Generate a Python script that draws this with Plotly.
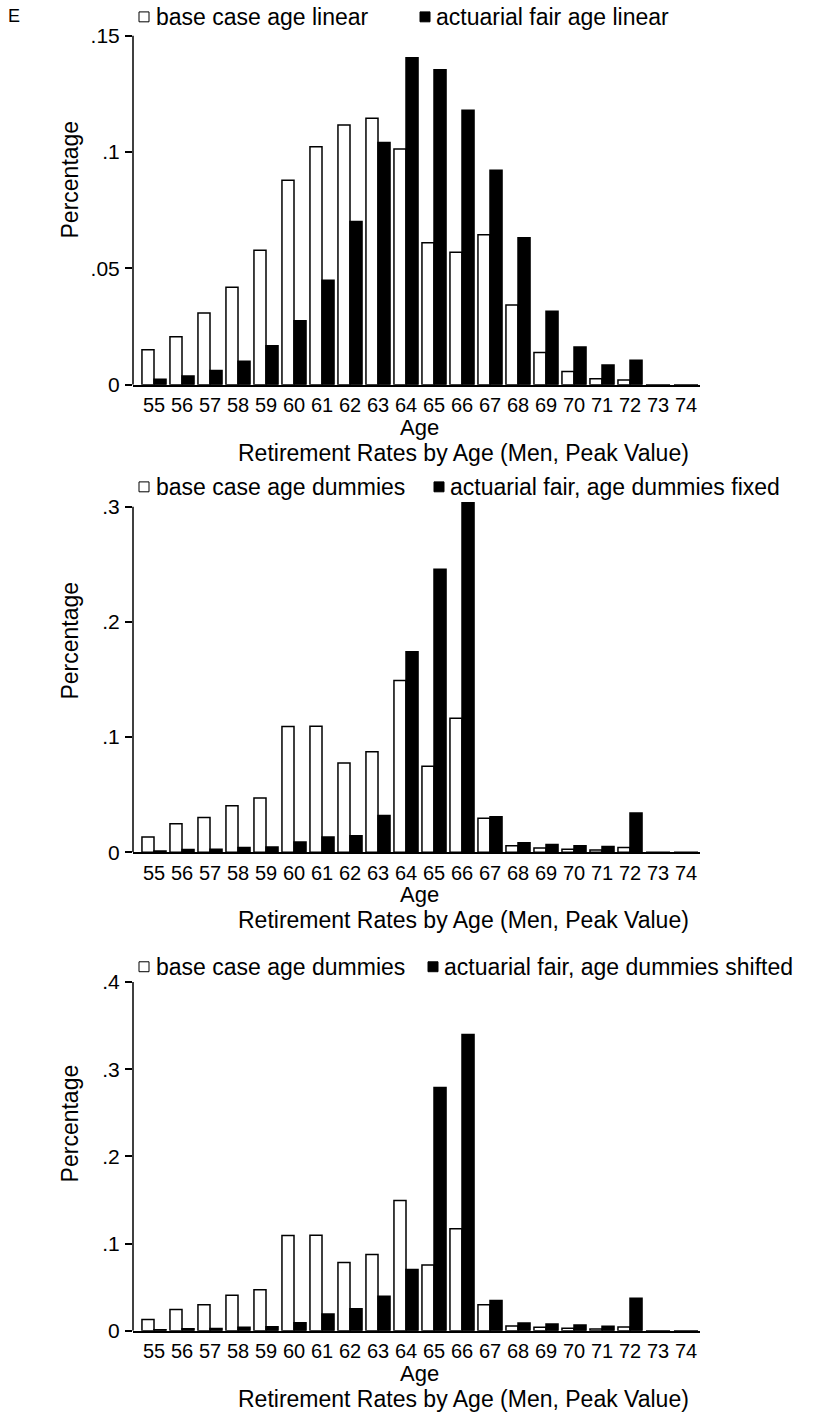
import plotly.graph_objects as go

# Ages on the horizontal axis
ages = list(range(55, 75))

# Panel 1: age-linear specification
base_linear = [0.0150, 0.0206, 0.0308, 0.0419, 0.0578, 0.0879, 0.1023, 0.1116, 0.1145, 0.1013,
               0.0610, 0.0569, 0.0645, 0.0343, 0.0138, 0.0057, 0.0026, 0.0020, 0, 0]
fair_linear = [0.0024, 0.0038, 0.0061, 0.0101, 0.0167, 0.0275, 0.0449, 0.0702, 0.1041, 0.1405,
               0.1354, 0.1180, 0.0922, 0.0632, 0.0316, 0.0162, 0.0085, 0.0105, 0, 0]

# Panel 2: age dummies, held fixed
base_dummies_2 = [0.0132, 0.0247, 0.0301, 0.0404, 0.0471, 0.1091, 0.1093, 0.0775, 0.0872, 0.1491,
                  0.0746, 0.1164, 0.0295, 0.0057, 0.0037, 0.0026, 0.0020, 0.0040, 0, 0]
fair_fixed = [0.0011, 0.0023, 0.0026, 0.0040, 0.0046, 0.0089, 0.0132, 0.0143, 0.0318, 0.1740,
              0.2457, 0.3034, 0.0307, 0.0083, 0.0066, 0.0057, 0.0049, 0.0341, 0, 0]

# Panel 3: age dummies, shifted
base_dummies_3 = [0.0129, 0.0243, 0.0297, 0.0406, 0.0468, 0.1091, 0.1095, 0.0783, 0.0874, 0.1494,
                  0.0753, 0.1168, 0.0297, 0.0053, 0.0038, 0.0026, 0.0018, 0.0041, 0, 0]
fair_shifted = [0.0011, 0.0023, 0.0025, 0.0038, 0.0046, 0.0091, 0.0190, 0.0251, 0.0395, 0.0703,
                0.2791, 0.3398, 0.0346, 0.0087, 0.0075, 0.0064, 0.0049, 0.0372, 0, 0]

y_ticks_1 = [0, 0.05, 0.1, 0.15]
y_ticklabels_1 = ["0", ".05", ".1", ".15"]
y_ticks_2 = [0, 0.1, 0.2, 0.3]
y_ticklabels_2 = ["0", ".1", ".2", ".3"]
y_ticks_3 = [0, 0.1, 0.2, 0.3, 0.4]
y_ticklabels_3 = ["0", ".1", ".2", ".3", ".4"]

legend_1 = ["base case age linear", "actuarial fair age linear"]
legend_2 = ["base case age dummies", "actuarial fair, age dummies fixed"]
legend_3 = ["base case age dummies", "actuarial fair, age dummies shifted"]

x_title = "Age"
y_title = "Percentage"
note = "Retirement Rates by Age (Men, Peak Value)"

W, H = 830, 1417
FONT = "Liberation Sans, Arial, sans-serif"
FS = 23        # legend, y title and note
FS_AGE = 22    # x title
FS_XTICK = 20  # age tick labels
FS_YTICK = 21  # value tick labels


def px(x):
    return x / W


def py(y):
    return 1 - y / H


panels = [
    dict(base=base_linear, fair=fair_linear, ymax=0.15, ytop=35, yzero=387,
         ticks=y_ticks_1, labels=y_ticklabels_1, legend=legend_1, leg_y=16,
         leg_x2=420, ytitle_y=180),
    dict(base=base_dummies_2, fair=fair_fixed, ymax=0.3, ytop=510, yzero=858.5,
         ticks=y_ticks_2, labels=y_ticklabels_2, legend=legend_2, leg_y=490,
         leg_x2=434, ytitle_y=645),
    dict(base=base_dummies_3, fair=fair_shifted, ymax=0.4, ytop=989.5, yzero=1341,
         ticks=y_ticks_3, labels=y_ticklabels_3, legend=legend_3, leg_y=974,
         leg_x2=428, ytitle_y=1132),
]

X_LEFT, X_RIGHT = 133, 700
x_range = [54.25, 74.5]

fig = go.Figure()
shapes = []
annotations = []

for i, p in enumerate(panels, start=1):
    xa = "x" if i == 1 else f"x{i}"
    ya = "y" if i == 1 else f"y{i}"
    # extra headroom so bars that slightly exceed the top tick are not cut off
    ymax_plot = p["ymax"] * 1.03
    top_px = p["yzero"] - (p["yzero"] - p["ytop"]) * 1.03
    fig.add_trace(go.Bar(x=ages, y=p["base"], xaxis=xa, yaxis=ya, offsetgroup="a",
                         marker=dict(color="white", line=dict(color="black", width=1.5)),
                         showlegend=False))
    fig.add_trace(go.Bar(x=ages, y=p["fair"], xaxis=xa, yaxis=ya, offsetgroup="b",
                         marker=dict(color="black", line=dict(color="black", width=1.5)),
                         showlegend=False))
    xkey = "xaxis" if i == 1 else f"xaxis{i}"
    ykey = "yaxis" if i == 1 else f"yaxis{i}"
    fig.layout[xkey] = dict(domain=[px(X_LEFT), px(X_RIGHT)], range=x_range,
                            anchor=ya, tickmode="array", tickvals=ages,
                            ticktext=[str(a) for a in ages], ticks="",
                            showline=True, linecolor="black", linewidth=1.5,
                            showgrid=False, zeroline=False, ticklabelstandoff=2,
                            tickfont=dict(family=FONT, size=FS_XTICK, color="black"))
    fig.layout[ykey] = dict(domain=[py(p["yzero"]), py(top_px)], range=[0, ymax_plot],
                            anchor=xa, tickmode="array", tickvals=p["ticks"],
                            ticktext=p["labels"], ticks="outside", ticklen=7,
                            tickwidth=1.5, tickcolor="black", showline=False,
                            showgrid=False, zeroline=False, ticklabelstandoff=1,
                            tickfont=dict(family=FONT, size=FS_YTICK, color="black"))
    # y axis line from 0 to the top tick
    shapes.append(dict(type="line", xref="paper", yref=ya, x0=px(X_LEFT), x1=px(X_LEFT),
                       y0=0, y1=p["ymax"], line=dict(color="black", width=1.5)))
    # legend keys
    ly = p["leg_y"]
    shapes.append(dict(type="rect", xref="paper", yref="paper",
                       x0=px(139), x1=px(149), y0=py(ly + 5), y1=py(ly - 5),
                       fillcolor="white", line=dict(color="black", width=1)))
    shapes.append(dict(type="rect", xref="paper", yref="paper",
                       x0=px(p["leg_x2"]), x1=px(p["leg_x2"] + 10), y0=py(ly + 5),
                       y1=py(ly - 5), fillcolor="black", line=dict(color="black", width=1)))
    annotations.append(dict(x=px(154), y=py(ly), xref="paper", yref="paper",
                            text=p["legend"][0], showarrow=False, xanchor="left",
                            yanchor="middle", font=dict(family=FONT, size=FS, color="black")))
    annotations.append(dict(x=px(p["leg_x2"] + 14), y=py(ly), xref="paper", yref="paper",
                            text=p["legend"][1], showarrow=False, xanchor="left",
                            yanchor="middle", font=dict(family=FONT, size=FS, color="black")))
    annotations.append(dict(x=px(70), y=py(p["ytitle_y"]), xref="paper", yref="paper",
                            text=y_title, showarrow=False, textangle=-90,
                            xanchor="center", yanchor="middle",
                            font=dict(family=FONT, size=FS, color="black")))
    annotations.append(dict(x=px(420), y=py(p["yzero"] + 43), xref="paper", yref="paper",
                            text=x_title, showarrow=False, xanchor="center", yanchor="middle",
                            borderpad=0,
                            font=dict(family=FONT, size=FS_AGE, color="black")))
    annotations.append(dict(x=px(463), y=py(p["yzero"] + 68.5), xref="paper", yref="paper",
                            text=note, showarrow=False, xanchor="center", yanchor="middle",
                            borderpad=0,
                            font=dict(family=FONT, size=FS, color="black")))

annotations.append(dict(x=px(6), y=py(15), xref="paper", yref="paper", text="E",
                        showarrow=False, xanchor="left", yanchor="middle",
                        font=dict(family=FONT, size=18, color="black")))

fig.update_layout(width=W, height=H, margin=dict(l=0, r=0, t=0, b=0),
                  paper_bgcolor="white", plot_bgcolor="white",
                  barmode="group", bargap=0.14, bargroupgap=0,
                  shapes=shapes, annotations=annotations, showlegend=False)

fig.write_html("out.html")
